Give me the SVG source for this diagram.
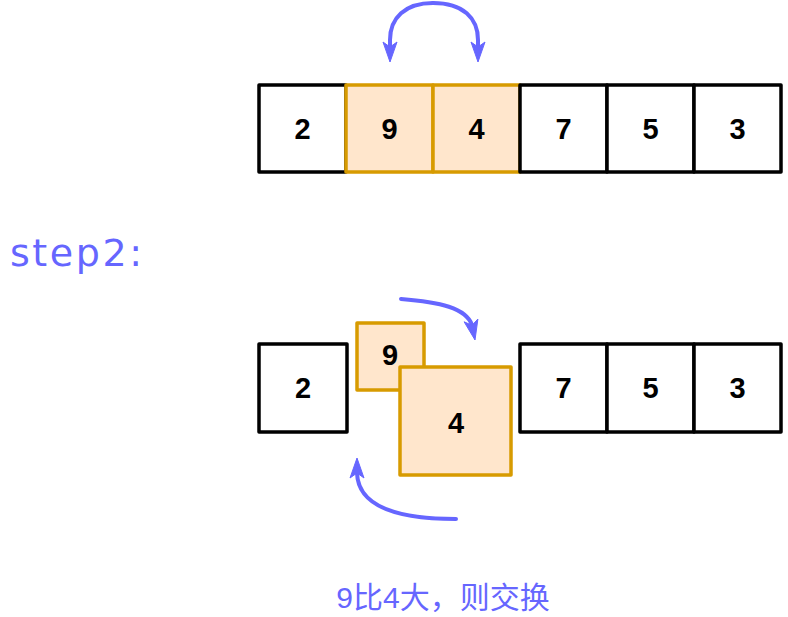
<svg xmlns="http://www.w3.org/2000/svg" width="788" height="617" viewBox="0 0 788 617">
<style>
.w{fill:#ffffff;stroke:#000000;stroke-width:3.5;stroke-linejoin:round}
.o{fill:#ffe6cc;stroke:#d79b00;stroke-width:3.5;stroke-linejoin:round}
.n{font-family:"Liberation Sans","DejaVu Sans",sans-serif;font-weight:bold;font-size:29px;fill:#000;text-anchor:middle}
.a{fill:none;stroke:#6666ff;stroke-width:4;stroke-linecap:round}
.h{fill:#6666ff;stroke:#6666ff;stroke-width:1;stroke-linejoin:round}
.lbl{font-family:"Liberation Sans","Noto Sans CJK SC",sans-serif;fill:#6666ff}
</style>
<g id="row1">
<g id="t2"><rect class="w" x="259" y="85" width="87" height="87"/><text class="n" x="302.5" y="139">2</text></g>
<g id="t9"><rect class="o" x="346" y="85" width="87" height="87"/><text class="n" x="389.5" y="139">9</text></g>
<g id="t4"><rect class="o" x="433" y="85" width="87" height="87"/><text class="n" x="476.5" y="139">4</text></g>
<g id="t7"><rect class="w" x="520" y="85" width="87" height="87"/><text class="n" x="563.5" y="139">7</text></g>
<g id="t5"><rect class="w" x="607" y="85" width="87" height="87"/><text class="n" x="650.5" y="139">5</text></g>
<g id="t3"><rect class="w" x="694" y="85" width="87" height="87"/><text class="n" x="737.5" y="139">3</text></g>
</g>
<g id="step"><text x="10" y="266" font-family="'DejaVu Sans',sans-serif" fill="#6666ff" font-size="38" textLength="132" lengthAdjust="spacing">step2:</text></g>
<g id="row2">
<g id="b2"><rect class="w" x="259" y="344" width="88" height="88"/><text class="n" x="303" y="398">2</text></g>
<g id="b9"><rect class="o" x="357" y="323" width="67" height="67"/><text class="n" x="390" y="365">9</text></g>
<g id="b4"><rect class="o" x="400" y="367" width="111" height="108"/><text class="n" x="456" y="433">4</text></g>
<g id="b7"><rect class="w" x="520" y="344" width="87" height="88"/><text class="n" x="563.5" y="398">7</text></g>
<g id="b5"><rect class="w" x="607" y="344" width="87" height="88"/><text class="n" x="650.5" y="398">5</text></g>
<g id="b3"><rect class="w" x="694" y="344" width="87" height="88"/><text class="n" x="737.5" y="398">3</text></g>
</g>
<g id="connectors">
<path class="a" d="M433,3 C405,3 390,18 390,40 L390,47"/>
<polygon class="h" points="383,42 390,62 397,42 390,47"/>
<path class="a" d="M433,3 C463,3 478,18 478,40 L478,47"/>
<polygon class="h" points="471,42 478,62 485,42 478,47"/>
<path class="a" d="M401,299 C440,302 466,308 472,325"/>
<polygon class="h" points="464.1,321.8 475,340 477.9,319 472,325.3"/>
<path class="a" d="M456,519 C395,519 358,505 357,473"/>
<polygon class="h" points="350,478 357,458 364,478 357,473"/>
</g>
<g id="caption"><text class="lbl" x="443" y="608" font-size="30" text-anchor="middle">9比4大，则交换</text></g>
</svg>
